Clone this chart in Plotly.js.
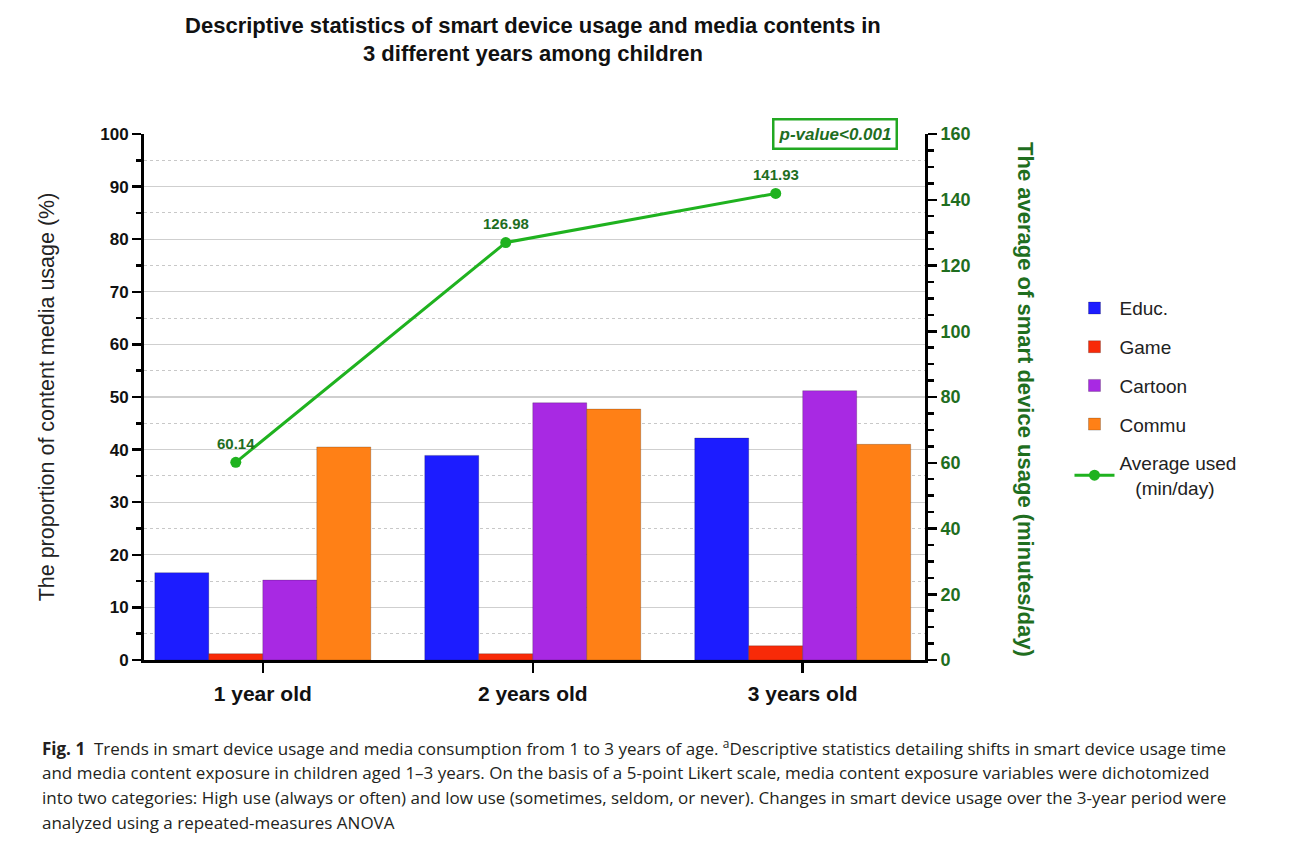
<!DOCTYPE html>
<html>
<head>
<meta charset="utf-8">
<script src="https://cdn.plot.ly/plotly-3.0.1.min.js"></script>
<style>html,body{margin:0;padding:0;background:#fff;}#chart{width:1292px;height:864px;}</style>
</head>
<body>
<div id="chart"></div>
<script>
const categories = ["1 year old", "2 years old", "3 years old"];
const educ = [16.6, 38.9, 42.2];
const game = [1.2, 1.2, 2.7];
const cartoon = [15.2, 48.9, 51.2];
const commu = [40.5, 47.7, 41.0];
const avgUsed = [60.14, 126.98, 141.93];
const avgLabels = ["60.14", "126.98", "141.93"];

const FONT = "Liberation Sans, Arial, sans-serif";
const DARKGREEN = "#1f6e1f";
const LINEGREEN = "#1fb21f";

const barLine = {width: 0.6, color: "rgba(0,0,0,0.35)"};
const traces = [
  {type: "bar", name: "Educ.", x: categories, y: educ, marker: {color: "#1c1cff", line: barLine}, legendgroup: "a"},
  {type: "bar", name: "Game", x: categories, y: game, marker: {color: "#f82a08", line: barLine}, legendgroup: "b"},
  {type: "bar", name: "Cartoon", x: categories, y: cartoon, marker: {color: "#a829e3", line: barLine}, legendgroup: "c"},
  {type: "bar", name: "Commu", x: categories, y: commu, marker: {color: "#ff8016", line: barLine}, legendgroup: "d"},
  {type: "scatter", mode: "lines+markers", name: "Average used<br>   (min/day)", x: categories, y: avgUsed,
   xaxis: "x2", yaxis: "y2",
   line: {color: LINEGREEN, width: 3}, marker: {color: LINEGREEN, size: 11}, legendgroup: "e"}
];

const annotations = avgUsed.map((v, i) => ({
  x: categories[i], y: v, xref: "x2", yref: "y2", text: avgLabels[i], showarrow: false,
  yshift: 19, font: {family: FONT, size: 15, color: DARKGREEN, weight: "bold"}
}));

annotations.push({
  xref: "paper", yref: "paper", x: 0.965, y: (660 - 150) / 526, xanchor: "right", yanchor: "bottom",
  text: "<i>p-value<0.001</i>", showarrow: false,
  font: {family: FONT, size: 17, color: DARKGREEN, weight: "bold"},
  bordercolor: "#22a822", borderwidth: 2.5, borderpad: 4, bgcolor: "#fff"
});

annotations.push({
  xref: "paper", yref: "paper", x: (1025 - 144) / 781, y: (660 - 399) / 526, xanchor: "center", yanchor: "middle",
  text: "The average of smart device usage (minutes/day)", textangle: 90, showarrow: false,
  font: {family: FONT, size: 22, color: DARKGREEN, weight: "bold"}
});

const captionLines = [
  "<b>Fig. 1</b>  Trends in smart device usage and media consumption from 1 to 3 years of age. <sup>a</sup>Descriptive statistics detailing shifts in smart device usage time",
  "and media content exposure in children aged 1–3 years. On the basis of a 5-point Likert scale, media content exposure variables were dichotomized",
  "into two categories: High use (always or often) and low use (sometimes, seldom, or never). Changes in smart device usage over the 3-year period were",
  "analyzed using a repeated-measures ANOVA"
];
captionLines.forEach((t, i) => {
  annotations.push({
    xref: "paper", yref: "paper", x: (40 - 144) / 781, y: (660 - 747 - i * 25.2) / 526, xanchor: "left", yanchor: "middle",
    text: t, showarrow: false, align: "left",
    font: {family: "Open Sans, Noto Sans, sans-serif", size: 17, color: "#231f20"}
  });
});

const layout = {
  width: 1292, height: 864,
  margin: {l: 144, r: 367, t: 134, b: 204},
  paper_bgcolor: "#fff", plot_bgcolor: "#fff",
  font: {family: FONT, color: "#111"},
  title: {
    text: "Descriptive statistics of smart device usage and media contents in<br>3 different years among children",
    x: 0.4125, xanchor: "center", y: 0.962, yanchor: "top",
    font: {family: FONT, size: 22, color: "#111", weight: "bold"}
  },
  barmode: "group", bargap: 0.2, bargroupgap: 0,
  showlegend: true,
  legend: {
    x: 1.185, y: 0.705, xanchor: "left", yanchor: "top",
    font: {family: FONT, size: 19, color: "#222"},
    traceorder: "grouped", tracegroupgap: 11, itemwidth: 40, bgcolor: "rgba(0,0,0,0)"
  },
  xaxis: {
    type: "category", range: [-0.44, 2.453], showgrid: false, zeroline: false,
    showline: true, linecolor: "#000", linewidth: 3,
    ticks: "outside", ticklen: 10, tickwidth: 2.5, tickcolor: "#000", ticklabelstandoff: 3,
    tickfont: {family: FONT, size: 21, color: "#111", weight: "bold"}
  },
  xaxis2: {
    type: "category", overlaying: "x", range: [-0.34, 2.553], visible: false, showgrid: false, zeroline: false
  },
  yaxis: {
    range: [0, 100], dtick: 10, showgrid: true, gridcolor: "#cfcfcf", gridwidth: 1.2, zeroline: false,
    showline: true, linecolor: "#000", linewidth: 3,
    ticks: "outside", ticklen: 9, tickwidth: 2.5, tickcolor: "#000",
    tickfont: {family: FONT, size: 17, color: "#111", weight: "bold"},
    minor: {dtick: 5, showgrid: true, griddash: "dot", gridcolor: "#c8c8c8", gridwidth: 1, ticks: "outside", ticklen: 5, tickwidth: 2.5, tickcolor: "#000"},
    title: {text: "The proportion of content media usage (%)", standoff: 40, font: {family: FONT, size: 21.5, color: "#222"}}
  },
  yaxis2: {
    overlaying: "y", side: "right", range: [0, 160], dtick: 20, showgrid: false, zeroline: false,
    showline: true, linecolor: "#000", linewidth: 3,
    ticks: "outside", ticklen: 9, tickwidth: 2.5, tickcolor: "#000",
    tickfont: {family: FONT, size: 18, color: DARKGREEN, weight: "bold"},
    minor: {dtick: 5, showgrid: false, ticks: "outside", ticklen: 6, tickwidth: 2.5, tickcolor: "#000"}
  },
  annotations: annotations
};

Plotly.newPlot("chart", traces, layout, {displayModeBar: false, staticPlot: true});
</script>
</body>
</html>
